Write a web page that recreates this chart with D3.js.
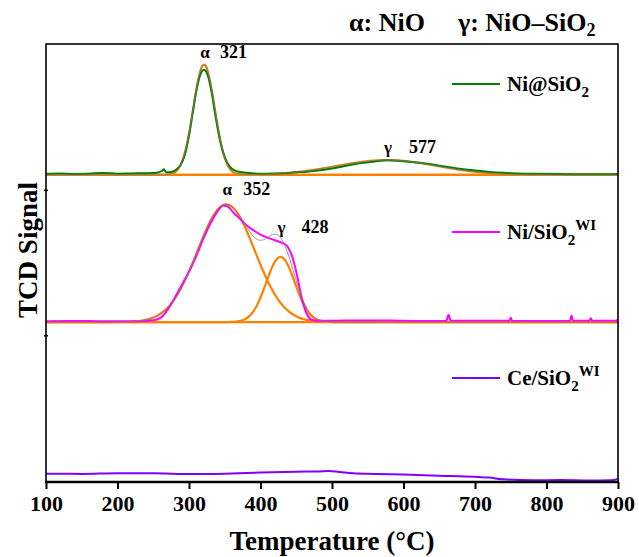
<!DOCTYPE html>
<html>
<head>
<meta charset="utf-8">
<script src="https://cdn.jsdelivr.net/npm/d3@7/dist/d3.min.js"></script>
<style>
  html, body { margin: 0; padding: 0; background: #fff; }
  svg { display: block; }
  text { font-family: "Liberation Serif", "Times New Roman", serif; font-weight: bold; fill: #000; }
</style>
</head>
<body>
<svg id="chart" width="639" height="557"></svg>
<script>
// ---- Data (signal in arbitrary units, relative to each trace's own baseline) ----
const xTicks = [100, 200, 300, 400, 500, 600, 700, 800, 900];
const yTicks = [33.5, 66.7];

// vertical offsets that stack the three traces
const offsetNiCore = 70.1;   // Ni@SiO2
const offsetNiWI = 36.5;     // Ni/SiO2 WI
const offsetCeWI = 0;        // Ce/SiO2 WI

// measured TPR traces: [temperature °C, signal]
const signalNiCore = [[100,0.25],[120,0.35],[140,0.2],[160,0.3],[180,0.45],[200,0.3],[220,0.35],[240,0.4],[255,0.5],[262,0.9],[265,1.3],[268,0.6],[275,0.7],[282,1.2],[288,2.2],[294,4.5],[300,9],[305,14],[310,19],[315,22.5],[321,24],[327,22.3],[332,18.5],[337,13.5],[342,9],[348,5],[354,2.6],[360,1.4],[368,0.8],[380,0.5],[400,0.3],[420,0.35],[440,0.45],[460,0.7],[480,1.0],[500,1.5],[520,2.1],[540,2.7],[560,3.1],[577,3.35],[595,3.2],[615,2.9],[635,2.5],[655,2.0],[675,1.5],[700,1.0],[725,0.6],[750,0.4],[780,0.25],[820,0.2],[860,0.15],[900,0.2]];

const signalNiWI = [[100,0.2],[150,0.25],[200,0.2],[230,0.2],[245,0.3],[255,0.6],[262,1.2],[270,2.8],[280,5.5],[290,8.5],[300,11.5],[310,15],[320,19],[330,22.5],[340,25.3],[348,26.6],[355,26.3],[362,25],[370,23.8],[380,22.2],[390,21],[400,20],[410,19.3],[420,18.7],[430,18.1],[437,17.4],[442,16],[447,13.5],[452,10],[457,6],[462,3],[467,1.2],[472,0.5],[480,0.3],[520,0.35],[560,0.4],[600,0.3],[640,0.25],[660,0.3],[663,1.7],[666,0.3],[700,0.3],[748,0.3],[750,1.0],[752,0.3],[800,0.25],[833,0.3],[835,1.5],[837,0.3],[860,0.3],[862,0.9],[864,0.3],[895,0.3],[900,0.6]];

const signalCeWI = [[100,1.9],[150,1.85],[200,2.0],[250,2.0],[300,1.8],[350,1.9],[400,2.15],[450,2.35],[480,2.4],[495,2.5],[510,2.3],[530,2.0],[560,1.85],[600,1.7],[650,1.45],[700,1.2],[720,1.0],[740,0.6],[780,0.4],[820,0.45],[860,0.35],[890,0.4],[900,0.7]];

// Gaussian deconvolution components: centre (°C), height, sigma (°C)
const peaksNiCore = [
  { tag: "α", center: 321, height: 25.2, sigma: 15 },
  { tag: "γ", center: 577, height: 3.4, sigma: 70 }
];
const peaksNiWI = [
  { tag: "α", center: 352, height: 26.9, sigma: 40 },
  { tag: "γ", center: 428, height: 14.9, sigma: 20 }
];

const legendNames = [
  { main: "Ni@SiO", sub: "2", sup: "", color: "#008000" },
  { main: "Ni/SiO", sub: "2", sup: "WI", color: "#ff00ff" },
  { main: "Ce/SiO", sub: "2", sup: "WI", color: "#8000ff" }
];

// ---- Layout ----
const svg = d3.select("#chart");
const frame = { left: 46, right: 618, top: 44, bottom: 482 };

const x = d3.scaleLinear().domain([100, 900]).range([frame.left, frame.right]);
const y = d3.scaleLinear().domain([0, 100]).range([frame.bottom, frame.top]);

svg.append("defs").append("clipPath").attr("id", "clip")
  .append("rect").attr("x", frame.left).attr("y", frame.top)
  .attr("width", frame.right - frame.left).attr("height", frame.bottom - frame.top);
const plot = svg.append("g").attr("clip-path", "url(#clip)");

const line = (off) => d3.line()
  .x(d => x(d[0]))
  .y(d => y(d[1] + off))
  .curve(d3.curveMonotoneX);

const gauss = (p, t) => p.height * Math.exp(-((t - p.center) ** 2) / (2 * p.sigma * p.sigma));
const grid = d3.range(100, 900.01, 1);

function drawFit(peaks, off, measured, color) {
  // baseline of the fit
  plot.append("path").datum([[100, 0], [900, 0]])
    .attr("d", line(off)).attr("fill", "none")
    .attr("stroke", "#ff7f00").attr("stroke-width", 2.2);
  // individual components
  peaks.forEach(p => {
    plot.append("path").datum(grid.map(t => [t, gauss(p, t)]))
      .attr("d", line(off)).attr("fill", "none")
      .attr("stroke", "#ff7f00").attr("stroke-width", 2.2);
  });
  // measured signal
  plot.append("path").datum(measured)
    .attr("d", line(off)).attr("fill", "none")
    .attr("stroke", color).attr("stroke-width", 2);
  // cumulative fit
  plot.append("path").datum(grid.map(t => [t, d3.sum(peaks, p => gauss(p, t))]))
    .attr("d", line(off)).attr("fill", "none")
    .attr("stroke", "#7f7f7f").attr("stroke-width", 1).attr("stroke-opacity", 0.85);
}

drawFit(peaksNiCore, offsetNiCore, signalNiCore, "#008000");
drawFit(peaksNiWI, offsetNiWI, signalNiWI, "#ff00ff");

plot.append("path").datum(signalCeWI)
  .attr("d", line(offsetCeWI)).attr("fill", "none")
  .attr("stroke", "#8000ff").attr("stroke-width", 2);

// peak annotations
function labelPeaks(peaks, off, dx, lift) {
  peaks.forEach((p, i) => {
    const top = d3.sum(peaks, q => gauss(q, p.center));
    const ty = y(top + off) - lift[i];
    svg.append("text").attr("x", x(p.center) + 1).attr("y", ty)
      .attr("text-anchor", "middle").attr("font-size", 17).text(p.tag);
    svg.append("text").attr("x", x(p.center) + dx[i]).attr("y", ty)
      .attr("font-size", 18).text(String(p.center));
  });
}
labelPeaks(peaksNiCore, offsetNiCore, [16, 22], [7, 7]);
labelPeaks(peaksNiWI, offsetNiWI, [17, 21], [9, 4]);

// ---- Axes ----
const xAxis = svg.append("g")
  .attr("transform", `translate(0,${frame.bottom})`)
  .call(d3.axisBottom(x).tickValues(xTicks).tickSize(7).tickPadding(6).tickSizeOuter(0));
xAxis.select(".domain").remove();
xAxis.selectAll(".tick line").attr("stroke", "#000").attr("stroke-width", 2);
xAxis.selectAll(".tick text")
  .attr("font-size", 22).attr("font-family", "Liberation Serif, serif")
  .attr("font-weight", "bold").attr("fill", "#000");

const yAxis = svg.append("g")
  .attr("transform", `translate(${frame.left + 2},0)`)
  .call(d3.axisLeft(y).tickValues(yTicks).tickSize(4).tickFormat(""));
yAxis.select(".domain").remove();
yAxis.selectAll(".tick line").attr("stroke", "#000").attr("stroke-width", 1.5);

// frame
svg.append("rect")
  .attr("x", frame.left).attr("y", frame.top)
  .attr("width", frame.right - frame.left).attr("height", frame.bottom - frame.top)
  .attr("fill", "none").attr("stroke", "#000").attr("stroke-width", 1.6);
svg.append("line")
  .attr("x1", frame.left - 1).attr("x2", frame.right + 1)
  .attr("y1", frame.bottom).attr("y2", frame.bottom)
  .attr("stroke", "#000").attr("stroke-width", 2.4);

// axis titles
svg.append("text").attr("x", (frame.left + frame.right) / 2).attr("y", 550)
  .attr("text-anchor", "middle").attr("font-size", 27).text("Temperature (°C)");
svg.append("text")
  .attr("transform", "translate(37,250) rotate(-90)")
  .attr("text-anchor", "middle").attr("font-size", 27).text("TCD Signal");

// legend
const legend = svg.append("g");
legendNames.forEach((d, i) => {
  const ly = [84, 232, 378][i];
  legend.append("line").attr("x1", 452).attr("x2", 500).attr("y1", ly).attr("y2", ly)
    .attr("stroke", d.color).attr("stroke-width", 2);
  const t = legend.append("text").attr("x", 507).attr("y", ly + 7).attr("font-size", 21);
  t.append("tspan").text(d.main);
  t.append("tspan").attr("dy", 6).attr("font-size", 15).text(d.sub);
  if (d.sup) t.append("tspan").attr("dy", -15).attr("font-size", 15).text(d.sup);
});

// header
svg.append("text").attr("x", 349).attr("y", 31).attr("font-size", 26).text("α: NiO");
const h2 = svg.append("text").attr("x", 458).attr("y", 31).attr("font-size", 26);
h2.append("tspan").text("γ: NiO–SiO");
h2.append("tspan").attr("dy", 5).attr("font-size", 18).text("2");
</script>
</body>
</html>
